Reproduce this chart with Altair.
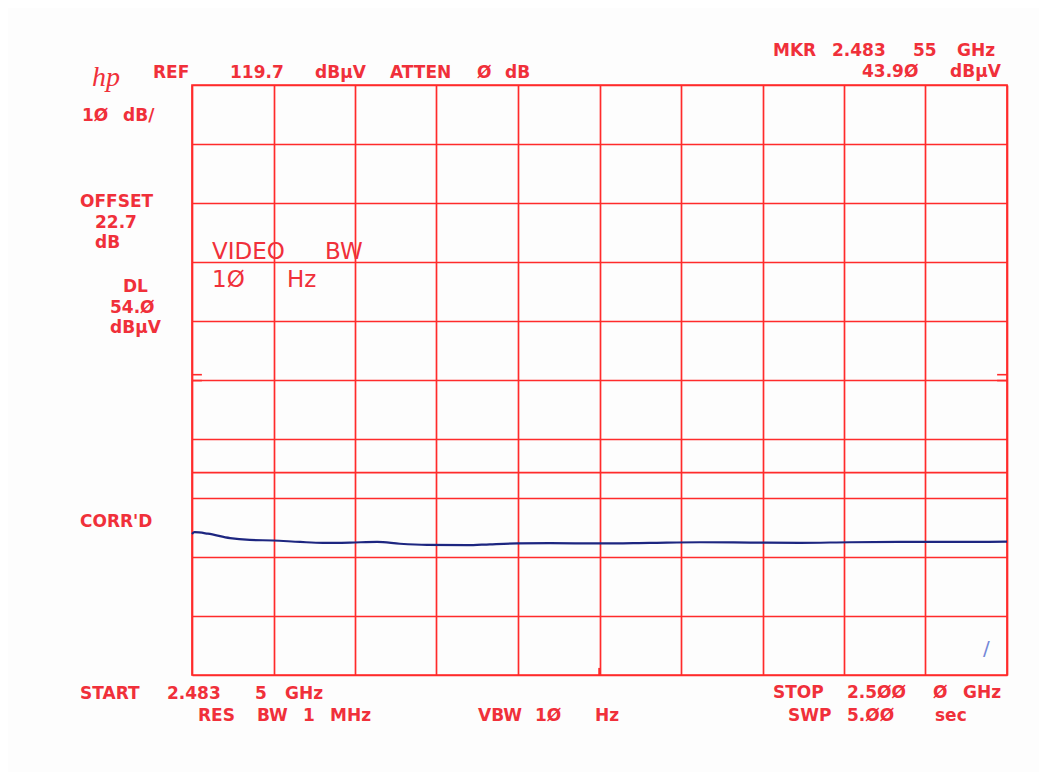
import altair as alt
import pandas as pd

# ---------------- data ----------------
freq_mhz = [2483.50, 2483.55, 2483.82, 2484.27, 2484.67, 2485.14, 2485.69, 2486.15,
            2486.70, 2487.25, 2487.71, 2488.26, 2489.07, 2489.53, 2490.08, 2490.75,
            2491.76, 2492.77, 2493.78, 2494.80, 2495.81, 2496.82, 2497.83, 2498.85,
            2500.00]
level_dbuv = [43.6, 43.9, 43.65, 42.9, 42.6, 42.5, 42.25, 42.1,
              42.15, 42.25, 41.95, 41.75, 41.7, 41.85, 42.0, 42.05,
              42.0, 42.1, 42.2, 42.15, 42.1, 42.2, 42.25, 42.25,
              42.3]
freq_grid_mhz = [2483.50, 2485.15, 2486.80, 2488.45, 2490.10, 2491.75,
                 2493.40, 2495.05, 2496.70, 2498.35, 2500.00]
level_grid_dbuv = [19.7, 29.7, 39.7, 49.7, 59.7, 69.7, 79.7, 89.7, 99.7, 109.7, 119.7]
display_line_dbuv = [54.0]
ref_mark_dbuv = [70.6, 69.6]
ref_mark_left = [2483.50, 2483.70]
ref_mark_right = [2499.80, 2500.00]
center_mark_freq = [2491.75]
center_mark_level = [19.7, 20.9]

# ---------------- annotation texts (page pixel layout) ----------------
small_texts = [
    ("REF", 153, 78), ("119.7", 230, 78), ("dBμV", 315, 78), ("ATTEN", 390, 78),
    ("Ø", 477, 78), ("dB", 505, 78),
    ("MKR", 773, 56), ("2.483", 832, 56), ("55", 913, 56), ("GHz", 957, 56),
    ("43.9Ø", 862, 77), ("dBμV", 950, 77),
    ("1Ø", 82, 121), ("dB/", 123, 121),
    ("OFFSET", 80, 207), ("22.7", 95, 228), ("dB", 95, 248),
    ("DL", 123, 292), ("54.Ø", 110, 313), ("dBμV", 110, 333),
    ("CORR'D", 80, 527),
    ("START", 80, 699), ("2.483", 167, 699), ("5", 255, 699), ("GHz", 285, 699),
    ("RES", 198, 721), ("BW", 257, 721), ("1", 303, 721), ("MHz", 330, 721),
    ("VBW", 478, 721), ("1Ø", 535, 721), ("Hz", 595, 721),
    ("STOP", 773, 698), ("2.5ØØ", 847, 698), ("Ø", 933, 698), ("GHz", 963, 698),
    ("SWP", 788, 721), ("5.ØØ", 847, 721), ("sec", 935, 721),
]
big_texts = [("VIDEO", 212, 259), ("BW", 325, 259), ("1Ø", 212, 287), ("Hz", 287, 287)]
logo_texts = [("hp", 92, 86)]
scribble_texts = [("/", 983, 655)]

ORIGIN_X, ORIGIN_Y = 192, 85
RED = "#f0303a"
GRID_RED = "#ff2b2b"
TRACE = "#1d2680"


def text_df(items):
    return pd.DataFrame({
        "t": [i[0] for i in items],
        "px": [i[1] - ORIGIN_X for i in items],
        "py": [i[2] - ORIGIN_Y for i in items],
    })


xs = alt.Scale(domain=[2483.5, 2500.0], nice=False, zero=False)
ys = alt.Scale(domain=[19.7, 119.7], nice=False, zero=False)

x_axis = alt.Axis(values=freq_grid_mhz, grid=True, gridColor=GRID_RED, gridWidth=1.7,
                  gridOpacity=1, labels=False, ticks=False, domain=False, title=None)
y_axis = alt.Axis(values=level_grid_dbuv, grid=True, gridColor=GRID_RED, gridWidth=1.7,
                  gridOpacity=1, labels=False, ticks=False, domain=False, title=None)

trace_df = pd.DataFrame({"freq": freq_mhz, "level": level_dbuv})

trace = alt.Chart(trace_df).mark_line(color=TRACE, strokeWidth=2.2, interpolate="monotone").encode(
    x=alt.X("freq:Q", scale=xs, axis=x_axis),
    y=alt.Y("level:Q", scale=ys, axis=y_axis),
)

dl = alt.Chart(pd.DataFrame({"level": display_line_dbuv})).mark_rule(
    color=GRID_RED, strokeWidth=1.7).encode(
    y=alt.Y("level:Q", scale=ys, axis=None))

marks_df = pd.DataFrame({
    "level": ref_mark_dbuv * 2,
    "x1": [ref_mark_left[0]] * 2 + [ref_mark_right[0]] * 2,
    "x2": [ref_mark_left[1]] * 2 + [ref_mark_right[1]] * 2,
})
ref_marks = alt.Chart(marks_df).mark_rule(color=GRID_RED, strokeWidth=1.6).encode(
    x=alt.X("x1:Q", scale=xs, axis=None), x2="x2:Q",
    y=alt.Y("level:Q", scale=ys, axis=None))

center_df = pd.DataFrame({"freq": center_mark_freq, "l1": [center_mark_level[0]],
                          "l2": [center_mark_level[1]]})
center_mark = alt.Chart(center_df).mark_rule(color=GRID_RED, strokeWidth=2.5).encode(
    x=alt.X("freq:Q", scale=xs, axis=None),
    y=alt.Y("l1:Q", scale=ys, axis=None), y2="l2:Q")


def text_layer(items, **kw):
    return alt.Chart(text_df(items)).mark_text(align="left", baseline="alphabetic", **kw).encode(
        x=alt.X("px:Q", scale=None, axis=None),
        y=alt.Y("py:Q", scale=None, axis=None),
        text="t:N",
    )


small_layer = text_layer(small_texts, font="DejaVu Sans", fontSize=17, fontWeight="bold", color=RED)
big_layer = text_layer(big_texts, font="DejaVu Sans", fontSize=23, fontWeight="normal", color=RED)
logo_layer = text_layer(logo_texts, font="Liberation Serif", fontSize=28, fontStyle="italic", color=RED)
scribble_layer = text_layer(scribble_texts, font="DejaVu Sans", fontSize=20, color="#7488d8")

chart = alt.layer(
    trace, dl, ref_marks, center_mark, small_layer, big_layer, logo_layer, scribble_layer
).resolve_scale(x="independent", y="independent").properties(
    width=815, height=590,
    autosize=alt.AutoSizeParams(type="none"),
    padding={"left": 184, "top": 77, "right": 32, "bottom": 97},
    background="#fdfdfd",
).configure_view(stroke=GRID_RED, strokeWidth=1.7)

chart.save("out.html", embed_options={"renderer": "svg", "actions": False})
